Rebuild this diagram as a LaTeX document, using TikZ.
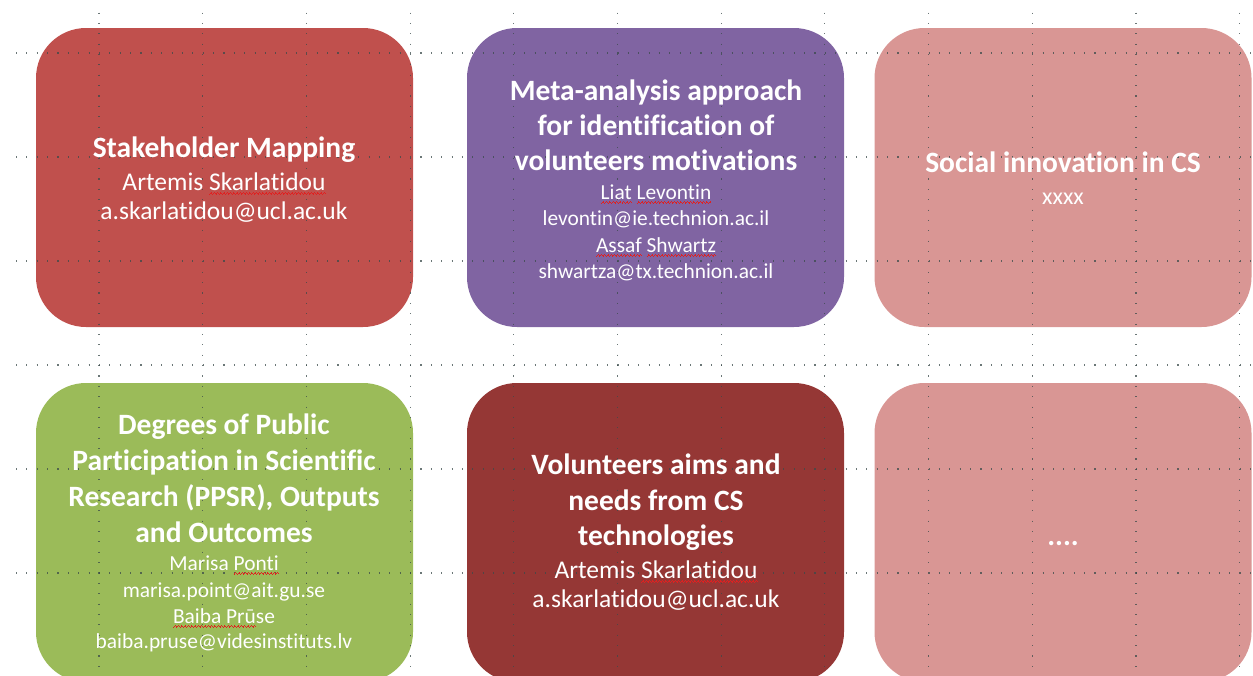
\documentclass[tikz,border=0pt]{standalone}
\usepackage{fontspec}
\setmainfont{Carlito}[Ligatures={NoCommon}]
\definecolor{spellred}{HTML}{E02020}
\definecolor{cRed}{HTML}{C0504D}
\definecolor{cPurple}{HTML}{8064A2}
\definecolor{cPink}{HTML}{D99694}
\definecolor{cGreen}{HTML}{9BBB59}
\definecolor{cDark}{HTML}{953735}
\definecolor{gridc}{HTML}{3A4A4A}
\newcommand\wavebit{\vrule width0.8pt height0.7pt depth0pt\vrule width0.8pt height1.4pt depth-0.7pt\vrule width0.8pt height2.1pt depth-1.4pt\vrule width0.8pt height1.4pt depth-0.7pt}
\newcommand\spellwave[1]{\leavevmode\setbox0\hbox{#1}\rlap{\lower4.5pt\hbox to\wd0{\color{spellred}\xleaders\hbox{\wavebit}\hfil}}\box0\relax}
\begin{document}
\begin{tikzpicture}[x=1pt,y=-1pt,
  card/.style={rectangle, rounded corners=50pt, minimum width=377pt, minimum height=299pt, inner sep=0pt, draw=none, fill=#1},
  ttl/.style={anchor=base, text=white, inner sep=0pt, font=\bfseries\fontsize{29.5}{34}\selectfont},
  big/.style={anchor=base, text=white, inner sep=0pt, font=\fontsize{25.5}{28}\selectfont},
  sml/.style={anchor=base, text=white, inner sep=0pt, font=\fontsize{21.4}{24}\selectfont},
  guide/.style={gridc, line width=1.1pt, dash pattern=on 1.1pt off 9.27pt, opacity=0.75}]
\useasboundingbox (0,0) rectangle (1253,675);
% cards
\node[card=cRed]    (b1) at (224.5,177.5) {};
\node[card=cPurple] (b2) at (655.5,177.5) {};
\node[card=cPink]   (b3) at (1063,177.5) {};
\node[card=cGreen]  (b4) at (224.5,532.5) {};
\node[card=cDark]   (b5) at (655.5,532.5) {};
\node[card=cPink]   (b6) at (1063,532.5) {};
% guides
\foreach \gx in {99,202.7,306.4,410.1,513.8,617.5,721.2,824.9,928.6,1032.3,1136,1239.7}
  \draw[guide] (\gx,12.5) -- (\gx,675);
\foreach \gy in {53,157,261,365,469,573}
  \draw[guide] (16,\gy) -- (1253,\gy);
% texts box 1
\node[ttl] (t1a) at (224,157) {Stakeholder Mapping};
\node[big] (t1b) at (224,190) {Artemis \spellwave{Skarlatidou}};
\node[big] (t1c) at (224,219) {a.skarlatidou@ucl.ac.uk};
% box 2
\node[ttl] (t2a) at (656,100) {Meta-analysis approach};
\node[ttl] (t2b) at (656,135) {for identification of};
\node[ttl] (t2c) at (656,170) {volunteers motivations};
\node[sml] (t2d) at (656,199) {\spellwave{Liat} \spellwave{Levontin}};
\node[sml] (t2e) at (656,225) {levontin@ie.technion.ac.il};
\node[sml] (t2f) at (656,252) {\spellwave{Assaf} \spellwave{Shwartz}};
\node[sml] (t2g) at (656,278) {shwartza@tx.technion.ac.il};
% box 3
\node[ttl] (t3a) at (1063,172) {Social innovation in CS};
\node[sml, font=\fontsize{24}{28}\selectfont] (t3b) at (1063,204) {xxxx};
% box 4
\node[ttl] (t4a) at (224,434) {Degrees of Public};
\node[ttl] (t4b) at (224,470) {Participation in Scientific};
\node[ttl] (t4c) at (224,506) {Research (PPSR), Outputs};
\node[ttl] (t4d) at (224,542) {and Outcomes};
\node[sml] (t4e) at (224,570) {Marisa \spellwave{Ponti}};
\node[sml] (t4f) at (224,597) {marisa.point@ait.gu.se};
\node[sml] (t4g) at (224,623) {\spellwave{Baiba Prū}se};
\node[sml] (t4h) at (224,648) {baiba.pruse@videsinstituts.lv};
% box 5
\node[ttl] (t5a) at (656,474) {Volunteers aims and};
\node[ttl] (t5b) at (656,510) {needs from CS};
\node[ttl] (t5c) at (656,545) {technologies};
\node[big] (t5d) at (656,578) {Artemis \spellwave{Skarlatidou}};
\node[big] (t5e) at (656,607) {a.skarlatidou@ucl.ac.uk};
% box 6
\node[ttl] (t6a) at (1063,545) {....};
\end{tikzpicture}
\end{document}
